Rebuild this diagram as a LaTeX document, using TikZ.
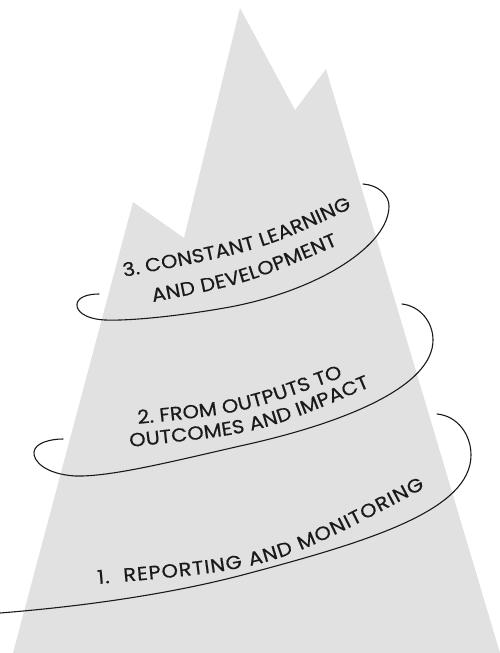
\documentclass[tikz,border=0pt]{standalone}
\usepackage{fontspec}
\newfontfamily\labelfont{Poppins}[FakeBold=0.5, FakeStretch=1.1]
\usetikzlibrary{decorations.text}
\definecolor{mountain}{HTML}{E1E1E1}
\definecolor{ink}{HTML}{1A1A1A}
\tikzset{
  spiral/.style={draw=ink, line width=1.1pt, line cap=round},
  label along/.style={decorate, decoration={text along path, text align={fit to path}, text={|\labelfont\fontsize{19}{21}\selectfont\color{ink}|#1}}}
}
\begin{document}
\begin{tikzpicture}[x=1pt,y=-1pt]
\useasboundingbox (0,0) rectangle (499,653);
% mountain
\fill[mountain] (13,653) -- (133,202) -- (184,238) -- (240,8) -- (295,110) -- (326,69) -- (500,653) -- cycle;
% spiral loop 3 (top)
\coordinate (s3a) at (363,184);
\coordinate (s3b) at (99,294);
\path[spiral] (s3a) .. controls (378,185) and (389,195) .. (389,206)
  .. controls (389,245) and (320,290) .. (230,307)
  .. controls (180,316) and (130,321) .. (105,320)
  .. controls (85,319) and (76,311) .. (77,304)
  .. controls (78,297) and (88,294) .. (s3b);
% spiral loop 2
\coordinate (s2a) at (402,304);
\coordinate (s2b) at (63,439);
\path[spiral] (s2a) .. controls (420,306) and (433,322) .. (433,340)
  .. controls (433,385) and (350,422) .. (240,446)
  .. controls (170,462) and (110,477) .. (75,476)
  .. controls (45,474) and (33,461) .. (34,452)
  .. controls (35,443) and (50,439) .. (s2b);
% spiral loop 1
\coordinate (s1a) at (437,414);
\coordinate (s1b) at (0,613);
\path[spiral] (s1a) .. controls (458,416) and (471,435) .. (471,455)
  .. controls (471,510) and (370,541) .. (250,573)
  .. controls (170,594.6) and (80,606.6) .. (s1b);
% labels, set along the spiral
\path[label along={3. CONSTANT LEARNING}] (124,277) .. controls (261,250.5) .. (352,208);
\path[label along={AND DEVELOPMENT}] (153,302) .. controls (246,284) .. (338,245);
\path[label along={2. FROM OUTPUTS TO}] (138,424) .. controls (245,413) .. (343,377);
\path[label along={OUTCOMES AND IMPACT}] (130,447) .. controls (261,433) .. (370,387);
\path[label along={1.{\ } REPORTING AND MONITORING}] (98,584) .. controls (273,569) .. (425,488);
\end{tikzpicture}
\end{document}
